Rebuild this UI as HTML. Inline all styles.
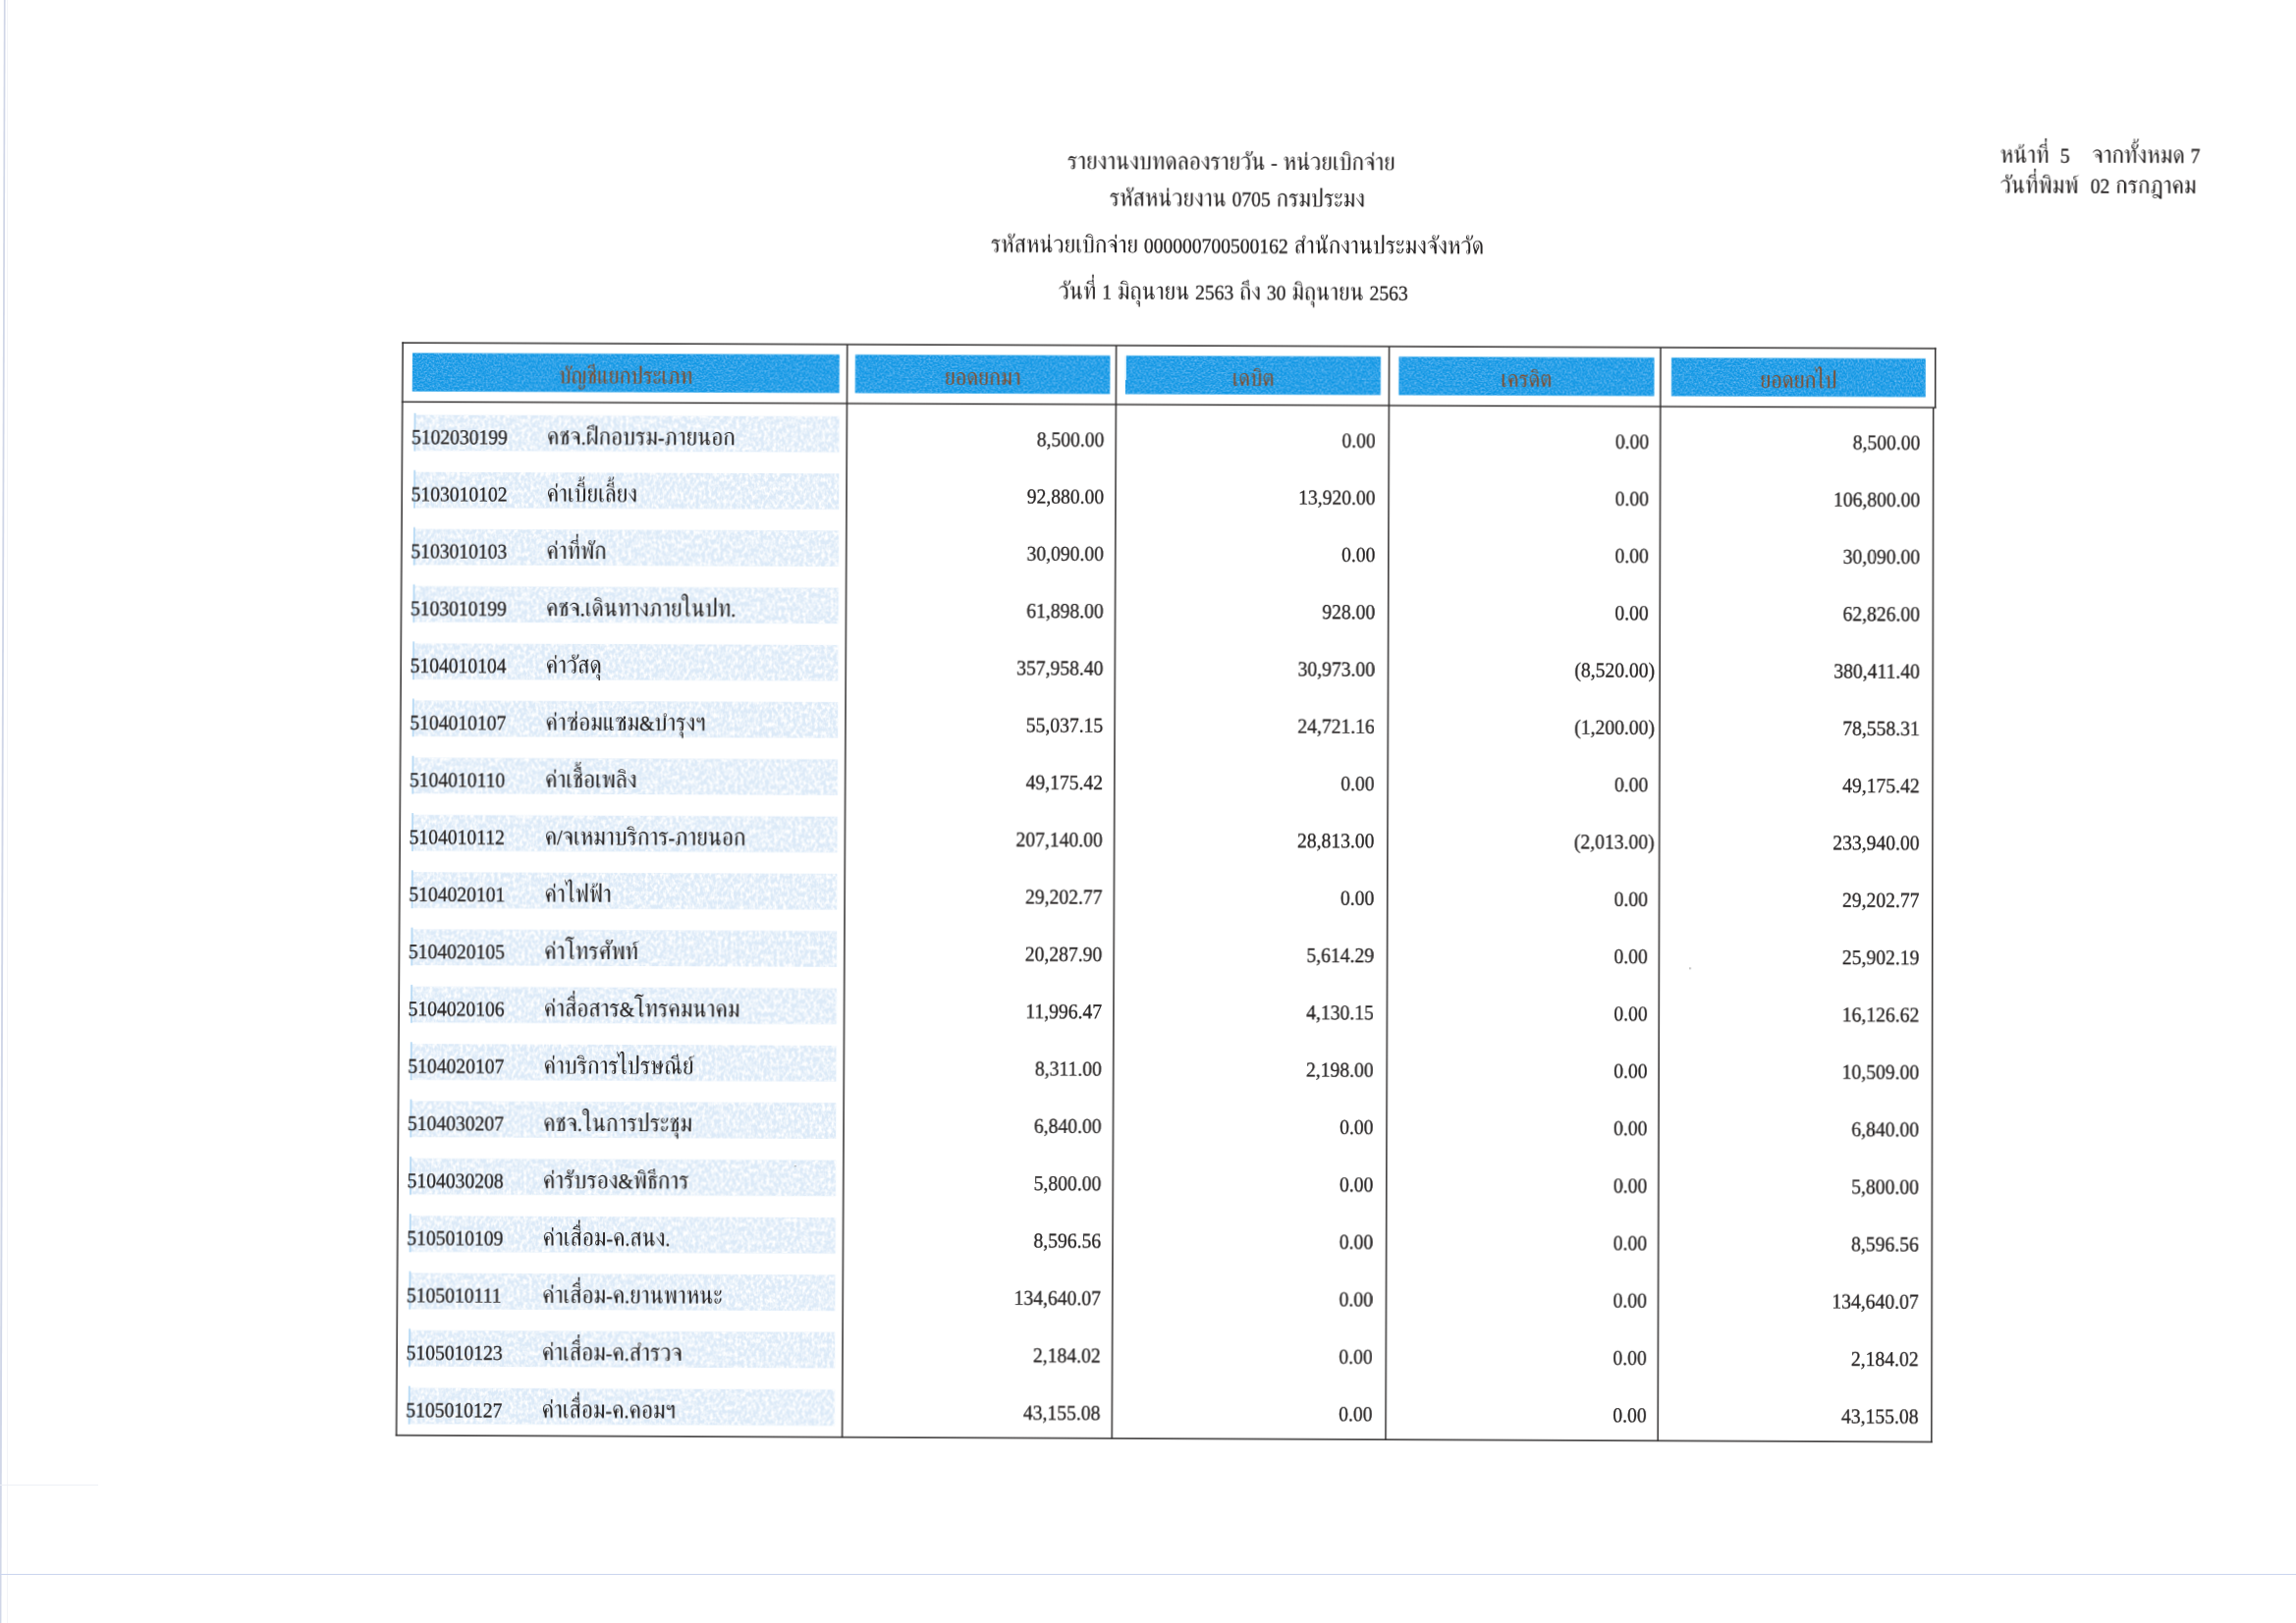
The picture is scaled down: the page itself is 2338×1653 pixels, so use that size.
<!DOCTYPE html>
<html lang="th"><head><meta charset="utf-8"><title>รายงานงบทดลองรายวัน - หน่วยเบิกจ่าย</title>
<style>
html,body{margin:0;padding:0;background:#fff}
html{overflow:hidden}
body,#pg{width:2338px;height:1653px;overflow:hidden;position:relative}
svg{display:block;position:absolute;left:0;top:0;transform-origin:0 0;overflow:visible}
text{font-family:"Liberation Serif","FreeSerif","Norasi","Angsana New","Noto Serif Thai","Trirong","Loma","DejaVu Serif",serif;fill:#262323;white-space:pre}
.th{font-size:25.4px}
.hd{font-size:24.2px}
.num,.n{font-size:21.3px;stroke:#262323;stroke-width:.3px}
.e{position:absolute;left:0;top:0}
</style></head><body><div id="pg">
<svg class="e" width="8" height="1653" viewBox="0 0 8 1653" style="transform:none"><polygon points="3.9,0 5.6,0 1.4,1653 -0.6,1653" fill="#d0d6e7"/></svg>
<div class="e" style="left:6.5px;width:1px;height:1653px;background:#f3f4f8"></div>
<div class="e" style="top:1602.5px;width:2338px;height:1.6px;background:#cbd5ee"></div>
<div class="e" style="top:1511.5px;width:100px;height:1px;background:#eef0f6"></div>
<svg width="2338" height="1653" viewBox="0 0 2338 1653" style="transform:matrix3d(0.99773592,0.00351680,0,-0.0000005639,-0.00689984,0.99471484,0,-0.0000026418,0,0,1,0,2.86484,0.00006,0,1)">
<defs>
<filter id="nzB" x="0" y="0" width="100%" height="100%" color-interpolation-filters="sRGB">
<feTurbulence type="fractalNoise" baseFrequency="0.55" numOctaves="2" seed="7" result="t"/>
<feColorMatrix in="t" type="matrix" values="0 0 0 0 0.75  0 0 0 0 0.85  0 0 0 0 1  1.3 0 0 0 -0.5" result="w"/>
<feComposite in="w" in2="SourceGraphic" operator="in" result="c"/>
<feMerge><feMergeNode in="SourceGraphic"/><feMergeNode in="c"/></feMerge>
</filter>
<filter id="nzH" x="0" y="0" width="100%" height="100%" color-interpolation-filters="sRGB">
<feTurbulence type="fractalNoise" baseFrequency="0.32 0.22" numOctaves="2" seed="11" result="t"/>
<feColorMatrix in="t" type="matrix" values="0 0 0 0 1  0 0 0 0 1  0 0 0 0 1  0 2.6 0 0 -0.95" result="w"/>
<feComposite in="w" in2="SourceGraphic" operator="in" result="c"/>
<feMerge><feMergeNode in="SourceGraphic"/><feMergeNode in="c"/></feMerge>
</filter>
</defs>
<g transform="translate(410.2 349.2)">
<text class="th" transform="translate(843.3 -180.2) scale(0.920 1)" text-anchor="middle">รายงานงบทดลองรายวัน <tspan class="n">-</tspan> หน่วยเบิกจ่าย</text>
<text class="th" transform="translate(849.5 -142.8) scale(0.920 1)" text-anchor="middle">รหัสหน่วยงาน <tspan class="n">0705</tspan> กรมประมง</text>
<text class="th" transform="translate(849.7 -95.0) scale(0.920 1)" text-anchor="middle">รหัสหน่วยเบิกจ่าย <tspan class="n">000000700500162</tspan> สำนักงานประมงจังหวัด</text>
<text class="th" transform="translate(845.6 -47.4) scale(0.920 1)" text-anchor="middle">วันที่ <tspan class="n">1</tspan> มิถุนายน <tspan class="n">2563</tspan> ถึง <tspan class="n">30</tspan> มิถุนายน <tspan class="n">2563</tspan></text>
<text class="th" transform="translate(1626.2 -190.2) scale(0.920 1)">หน้าที่</text>
<text class="num" transform="translate(1687.3 -190.4) scale(0.920 1)">5</text>
<text class="th" transform="translate(1719.7 -190.5) scale(0.920 1)">จากทั้งหมด <tspan class="n">7</tspan></text>
<text class="th" transform="translate(1626.3 -159.2) scale(0.920 1)">วันที่พิมพ์</text>
<text class="th" transform="translate(1718.2 -159.5) scale(0.920 1)"><tspan class="n">02</tspan> กรกฎาคม</text>
<g filter="url(#nzH)">
<rect x="11.8" y="73.5" width="433.2" height="36.6" fill="#dceaf8"/>
<rect x="11.8" y="131.8" width="433.2" height="36.6" fill="#dceaf8"/>
<rect x="11.8" y="190.1" width="433.2" height="36.6" fill="#dceaf8"/>
<rect x="11.8" y="248.4" width="433.2" height="36.6" fill="#dceaf8"/>
<rect x="11.8" y="306.7" width="433.2" height="36.6" fill="#dceaf8"/>
<rect x="11.8" y="365.0" width="433.2" height="36.6" fill="#dceaf8"/>
<rect x="11.8" y="423.3" width="433.2" height="36.6" fill="#dceaf8"/>
<rect x="11.8" y="481.6" width="433.2" height="36.6" fill="#dceaf8"/>
<rect x="11.8" y="539.9" width="433.2" height="36.6" fill="#dceaf8"/>
<rect x="11.8" y="598.2" width="433.2" height="36.6" fill="#dceaf8"/>
<rect x="11.8" y="656.5" width="433.2" height="36.6" fill="#dceaf8"/>
<rect x="11.8" y="714.8" width="433.2" height="36.6" fill="#dceaf8"/>
<rect x="11.8" y="773.1" width="433.2" height="36.6" fill="#dceaf8"/>
<rect x="11.8" y="831.4" width="433.2" height="36.6" fill="#dceaf8"/>
<rect x="11.8" y="889.7" width="433.2" height="36.6" fill="#dceaf8"/>
<rect x="11.8" y="948.0" width="433.2" height="36.6" fill="#dceaf8"/>
<rect x="11.8" y="1006.3" width="433.2" height="36.6" fill="#dceaf8"/>
<rect x="11.8" y="1064.6" width="433.2" height="36.6" fill="#dceaf8"/>
</g>
<rect x="11.8" y="71.7" width="2.0" height="38.8" fill="#bcdcf5"/>
<rect x="11.8" y="130.0" width="2.0" height="38.8" fill="#bcdcf5"/>
<rect x="11.8" y="188.3" width="2.0" height="38.8" fill="#bcdcf5"/>
<rect x="11.8" y="246.6" width="2.0" height="38.8" fill="#bcdcf5"/>
<rect x="11.8" y="304.9" width="2.0" height="38.8" fill="#bcdcf5"/>
<rect x="11.8" y="363.2" width="2.0" height="38.8" fill="#bcdcf5"/>
<rect x="11.8" y="421.5" width="2.0" height="38.8" fill="#bcdcf5"/>
<rect x="11.8" y="479.8" width="2.0" height="38.8" fill="#bcdcf5"/>
<rect x="11.8" y="538.1" width="2.0" height="38.8" fill="#bcdcf5"/>
<rect x="11.8" y="596.4" width="2.0" height="38.8" fill="#bcdcf5"/>
<rect x="11.8" y="654.7" width="2.0" height="38.8" fill="#bcdcf5"/>
<rect x="11.8" y="713.0" width="2.0" height="38.8" fill="#bcdcf5"/>
<rect x="11.8" y="771.3" width="2.0" height="38.8" fill="#bcdcf5"/>
<rect x="11.8" y="829.6" width="2.0" height="38.8" fill="#bcdcf5"/>
<rect x="11.8" y="887.9" width="2.0" height="38.8" fill="#bcdcf5"/>
<rect x="11.8" y="946.2" width="2.0" height="38.8" fill="#bcdcf5"/>
<rect x="11.8" y="1004.5" width="2.0" height="38.8" fill="#bcdcf5"/>
<rect x="11.8" y="1062.8" width="2.0" height="38.8" fill="#bcdcf5"/>
<g filter="url(#nzB)">
<rect x="9.9" y="10.3" width="435.1" height="39.2" fill="#0f97e4"/>
<rect x="461.1" y="10.3" width="259.5" height="39.2" fill="#0f97e4"/>
<rect x="736.6" y="10.3" width="259.5" height="39.2" fill="#0f97e4"/>
<rect x="1014.6" y="10.3" width="259.9" height="39.2" fill="#0f97e4"/>
<rect x="1292.1" y="10.3" width="258.5" height="39.2" fill="#0f97e4"/>
</g>
<rect x="-0.8" y="-0.8" width="1562.1" height="1.5" fill="#333131"/>
<rect x="-0.8" y="59.5" width="1562.1" height="1.5" fill="#333131"/>
<rect x="-0.8" y="1112.2" width="1560.1" height="1.5" fill="#333131"/>
<rect x="-0.8" y="-0.8" width="1.5" height="1114.5" fill="#333131"/>
<rect x="1559.8" y="-0.8" width="1.5" height="61.8" fill="#333131"/>
<rect x="1557.8" y="60.3" width="1.5" height="1053.5" fill="#333131"/>
<rect x="452.1" y="0.0" width="1.5" height="1113.0" fill="#333131"/>
<rect x="726.0" y="0.0" width="1.5" height="1113.0" fill="#333131"/>
<rect x="1003.9" y="0.0" width="1.5" height="1113.0" fill="#333131"/>
<rect x="1280.2" y="0.0" width="1.5" height="1113.0" fill="#333131"/>
<text class="th hd" transform="translate(227.4 40.6) scale(0.920 1)" text-anchor="middle" style="fill:#864a26">บัญชีแยกประเภท</text>
<text class="th hd" transform="translate(590.9 40.6) scale(0.920 1)" text-anchor="middle" style="fill:#864a26">ยอดยกมา</text>
<text class="th hd" transform="translate(866.4 40.6) scale(0.920 1)" text-anchor="middle" style="fill:#864a26">เดบิต</text>
<text class="th hd" transform="translate(1144.5 40.6) scale(0.920 1)" text-anchor="middle" style="fill:#864a26">เครดิต</text>
<text class="th hd" transform="translate(1421.3 40.6) scale(0.920 1)" text-anchor="middle" style="fill:#864a26">ยอดยกไป</text>
<text class="num" transform="translate(9.4 103.1) scale(0.920 1)">5102030199</text>
<text class="th" transform="translate(147.4 103.1) scale(0.920 1)">คชจ<tspan class="n">.</tspan>ฝึกอบรม<tspan class="n">-</tspan>ภายนอก</text>
<text class="num" transform="translate(714.9 103.1) scale(0.920 1)" text-anchor="end">8,500.00</text>
<text class="num" transform="translate(991.2 103.1) scale(0.920 1)" text-anchor="end">0.00</text>
<text class="num" transform="translate(1269.4 103.1) scale(0.920 1)" text-anchor="end">0.00</text>
<text class="num" transform="translate(1545.3 103.1) scale(0.920 1)" text-anchor="end">8,500.00</text>
<text class="num" transform="translate(9.4 161.4) scale(0.920 1)">5103010102</text>
<text class="th" transform="translate(147.4 161.4) scale(0.920 1)">ค่าเบี้ยเลี้ยง</text>
<text class="num" transform="translate(714.9 161.4) scale(0.920 1)" text-anchor="end">92,880.00</text>
<text class="num" transform="translate(991.2 161.4) scale(0.920 1)" text-anchor="end">13,920.00</text>
<text class="num" transform="translate(1269.4 161.4) scale(0.920 1)" text-anchor="end">0.00</text>
<text class="num" transform="translate(1545.3 161.4) scale(0.920 1)" text-anchor="end">106,800.00</text>
<text class="num" transform="translate(9.4 219.7) scale(0.920 1)">5103010103</text>
<text class="th" transform="translate(147.4 219.7) scale(0.920 1)">ค่าที่พัก</text>
<text class="num" transform="translate(714.9 219.7) scale(0.920 1)" text-anchor="end">30,090.00</text>
<text class="num" transform="translate(991.2 219.7) scale(0.920 1)" text-anchor="end">0.00</text>
<text class="num" transform="translate(1269.4 219.7) scale(0.920 1)" text-anchor="end">0.00</text>
<text class="num" transform="translate(1545.3 219.7) scale(0.920 1)" text-anchor="end">30,090.00</text>
<text class="num" transform="translate(9.4 278.0) scale(0.920 1)">5103010199</text>
<text class="th" transform="translate(147.4 278.0) scale(0.920 1)">คชจ<tspan class="n">.</tspan>เดินทางภายในปท<tspan class="n">.</tspan></text>
<text class="num" transform="translate(714.9 278.0) scale(0.920 1)" text-anchor="end">61,898.00</text>
<text class="num" transform="translate(991.2 278.0) scale(0.920 1)" text-anchor="end">928.00</text>
<text class="num" transform="translate(1269.4 278.0) scale(0.920 1)" text-anchor="end">0.00</text>
<text class="num" transform="translate(1545.3 278.0) scale(0.920 1)" text-anchor="end">62,826.00</text>
<text class="num" transform="translate(9.4 336.3) scale(0.920 1)">5104010104</text>
<text class="th" transform="translate(147.4 336.3) scale(0.920 1)">ค่าวัสดุ</text>
<text class="num" transform="translate(714.9 336.3) scale(0.920 1)" text-anchor="end">357,958.40</text>
<text class="num" transform="translate(991.2 336.3) scale(0.920 1)" text-anchor="end">30,973.00</text>
<text class="num" transform="translate(1275.9 336.3) scale(0.920 1)" text-anchor="end">(8,520.00)</text>
<text class="num" transform="translate(1545.3 336.3) scale(0.920 1)" text-anchor="end">380,411.40</text>
<text class="num" transform="translate(9.4 394.6) scale(0.920 1)">5104010107</text>
<text class="th" transform="translate(147.4 394.6) scale(0.920 1)">ค่าซ่อมแซม<tspan class="n">&amp;</tspan>บำรุงฯ</text>
<text class="num" transform="translate(714.9 394.6) scale(0.920 1)" text-anchor="end">55,037.15</text>
<text class="num" transform="translate(991.2 394.6) scale(0.920 1)" text-anchor="end">24,721.16</text>
<text class="num" transform="translate(1275.9 394.6) scale(0.920 1)" text-anchor="end">(1,200.00)</text>
<text class="num" transform="translate(1545.3 394.6) scale(0.920 1)" text-anchor="end">78,558.31</text>
<text class="num" transform="translate(9.4 452.9) scale(0.920 1)">5104010110</text>
<text class="th" transform="translate(147.4 452.9) scale(0.920 1)">ค่าเชื้อเพลิง</text>
<text class="num" transform="translate(714.9 452.9) scale(0.920 1)" text-anchor="end">49,175.42</text>
<text class="num" transform="translate(991.2 452.9) scale(0.920 1)" text-anchor="end">0.00</text>
<text class="num" transform="translate(1269.4 452.9) scale(0.920 1)" text-anchor="end">0.00</text>
<text class="num" transform="translate(1545.3 452.9) scale(0.920 1)" text-anchor="end">49,175.42</text>
<text class="num" transform="translate(9.4 511.2) scale(0.920 1)">5104010112</text>
<text class="th" transform="translate(147.4 511.2) scale(0.920 1)">ค<tspan class="n">/</tspan>จเหมาบริการ<tspan class="n">-</tspan>ภายนอก</text>
<text class="num" transform="translate(714.9 511.2) scale(0.920 1)" text-anchor="end">207,140.00</text>
<text class="num" transform="translate(991.2 511.2) scale(0.920 1)" text-anchor="end">28,813.00</text>
<text class="num" transform="translate(1275.9 511.2) scale(0.920 1)" text-anchor="end">(2,013.00)</text>
<text class="num" transform="translate(1545.3 511.2) scale(0.920 1)" text-anchor="end">233,940.00</text>
<text class="num" transform="translate(9.4 569.5) scale(0.920 1)">5104020101</text>
<text class="th" transform="translate(147.4 569.5) scale(0.920 1)">ค่าไฟฟ้า</text>
<text class="num" transform="translate(714.9 569.5) scale(0.920 1)" text-anchor="end">29,202.77</text>
<text class="num" transform="translate(991.2 569.5) scale(0.920 1)" text-anchor="end">0.00</text>
<text class="num" transform="translate(1269.4 569.5) scale(0.920 1)" text-anchor="end">0.00</text>
<text class="num" transform="translate(1545.3 569.5) scale(0.920 1)" text-anchor="end">29,202.77</text>
<text class="num" transform="translate(9.4 627.8) scale(0.920 1)">5104020105</text>
<text class="th" transform="translate(147.4 627.8) scale(0.920 1)">ค่าโทรศัพท์</text>
<text class="num" transform="translate(714.9 627.8) scale(0.920 1)" text-anchor="end">20,287.90</text>
<text class="num" transform="translate(991.2 627.8) scale(0.920 1)" text-anchor="end">5,614.29</text>
<text class="num" transform="translate(1269.4 627.8) scale(0.920 1)" text-anchor="end">0.00</text>
<text class="num" transform="translate(1545.3 627.8) scale(0.920 1)" text-anchor="end">25,902.19</text>
<text class="num" transform="translate(9.4 686.1) scale(0.920 1)">5104020106</text>
<text class="th" transform="translate(147.4 686.1) scale(0.920 1)">ค่าสื่อสาร<tspan class="n">&amp;</tspan>โทรคมนาคม</text>
<text class="num" transform="translate(714.9 686.1) scale(0.920 1)" text-anchor="end">11,996.47</text>
<text class="num" transform="translate(991.2 686.1) scale(0.920 1)" text-anchor="end">4,130.15</text>
<text class="num" transform="translate(1269.4 686.1) scale(0.920 1)" text-anchor="end">0.00</text>
<text class="num" transform="translate(1545.3 686.1) scale(0.920 1)" text-anchor="end">16,126.62</text>
<text class="num" transform="translate(9.4 744.4) scale(0.920 1)">5104020107</text>
<text class="th" transform="translate(147.4 744.4) scale(0.920 1)">ค่าบริการไปรษณีย์</text>
<text class="num" transform="translate(714.9 744.4) scale(0.920 1)" text-anchor="end">8,311.00</text>
<text class="num" transform="translate(991.2 744.4) scale(0.920 1)" text-anchor="end">2,198.00</text>
<text class="num" transform="translate(1269.4 744.4) scale(0.920 1)" text-anchor="end">0.00</text>
<text class="num" transform="translate(1545.3 744.4) scale(0.920 1)" text-anchor="end">10,509.00</text>
<text class="num" transform="translate(9.4 802.7) scale(0.920 1)">5104030207</text>
<text class="th" transform="translate(147.4 802.7) scale(0.920 1)">คชจ<tspan class="n">.</tspan>ในการประชุม</text>
<text class="num" transform="translate(714.9 802.7) scale(0.920 1)" text-anchor="end">6,840.00</text>
<text class="num" transform="translate(991.2 802.7) scale(0.920 1)" text-anchor="end">0.00</text>
<text class="num" transform="translate(1269.4 802.7) scale(0.920 1)" text-anchor="end">0.00</text>
<text class="num" transform="translate(1545.3 802.7) scale(0.920 1)" text-anchor="end">6,840.00</text>
<text class="num" transform="translate(9.4 861.0) scale(0.920 1)">5104030208</text>
<text class="th" transform="translate(147.4 861.0) scale(0.920 1)">ค่ารับรอง<tspan class="n">&amp;</tspan>พิธีการ</text>
<text class="num" transform="translate(714.9 861.0) scale(0.920 1)" text-anchor="end">5,800.00</text>
<text class="num" transform="translate(991.2 861.0) scale(0.920 1)" text-anchor="end">0.00</text>
<text class="num" transform="translate(1269.4 861.0) scale(0.920 1)" text-anchor="end">0.00</text>
<text class="num" transform="translate(1545.3 861.0) scale(0.920 1)" text-anchor="end">5,800.00</text>
<text class="num" transform="translate(9.4 919.3) scale(0.920 1)">5105010109</text>
<text class="th" transform="translate(147.4 919.3) scale(0.920 1)">ค่าเสื่อม<tspan class="n">-</tspan>ค<tspan class="n">.</tspan>สนง<tspan class="n">.</tspan></text>
<text class="num" transform="translate(714.9 919.3) scale(0.920 1)" text-anchor="end">8,596.56</text>
<text class="num" transform="translate(991.2 919.3) scale(0.920 1)" text-anchor="end">0.00</text>
<text class="num" transform="translate(1269.4 919.3) scale(0.920 1)" text-anchor="end">0.00</text>
<text class="num" transform="translate(1545.3 919.3) scale(0.920 1)" text-anchor="end">8,596.56</text>
<text class="num" transform="translate(9.4 977.6) scale(0.920 1)">5105010111</text>
<text class="th" transform="translate(147.4 977.6) scale(0.920 1)">ค่าเสื่อม<tspan class="n">-</tspan>ค<tspan class="n">.</tspan>ยานพาหนะ</text>
<text class="num" transform="translate(714.9 977.6) scale(0.920 1)" text-anchor="end">134,640.07</text>
<text class="num" transform="translate(991.2 977.6) scale(0.920 1)" text-anchor="end">0.00</text>
<text class="num" transform="translate(1269.4 977.6) scale(0.920 1)" text-anchor="end">0.00</text>
<text class="num" transform="translate(1545.3 977.6) scale(0.920 1)" text-anchor="end">134,640.07</text>
<text class="num" transform="translate(9.4 1035.9) scale(0.920 1)">5105010123</text>
<text class="th" transform="translate(147.4 1035.9) scale(0.920 1)">ค่าเสื่อม<tspan class="n">-</tspan>ค<tspan class="n">.</tspan>สำรวจ</text>
<text class="num" transform="translate(714.9 1035.9) scale(0.920 1)" text-anchor="end">2,184.02</text>
<text class="num" transform="translate(991.2 1035.9) scale(0.920 1)" text-anchor="end">0.00</text>
<text class="num" transform="translate(1269.4 1035.9) scale(0.920 1)" text-anchor="end">0.00</text>
<text class="num" transform="translate(1545.3 1035.9) scale(0.920 1)" text-anchor="end">2,184.02</text>
<text class="num" transform="translate(9.4 1094.2) scale(0.920 1)">5105010127</text>
<text class="th" transform="translate(147.4 1094.2) scale(0.920 1)">ค่าเสื่อม<tspan class="n">-</tspan>ค<tspan class="n">.</tspan>คอมฯ</text>
<text class="num" transform="translate(714.9 1094.2) scale(0.920 1)" text-anchor="end">43,155.08</text>
<text class="num" transform="translate(991.2 1094.2) scale(0.920 1)" text-anchor="end">0.00</text>
<text class="num" transform="translate(1269.4 1094.2) scale(0.920 1)" text-anchor="end">0.00</text>
<text class="num" transform="translate(1545.3 1094.2) scale(0.920 1)" text-anchor="end">43,155.08</text>
<circle cx="403.9" cy="837.5" r="0.8" fill="#8a8a8a"/>
<circle cx="1312.5" cy="632.7" r="0.8" fill="#8a8a8a"/>
</g></svg>
</div></body></html>
